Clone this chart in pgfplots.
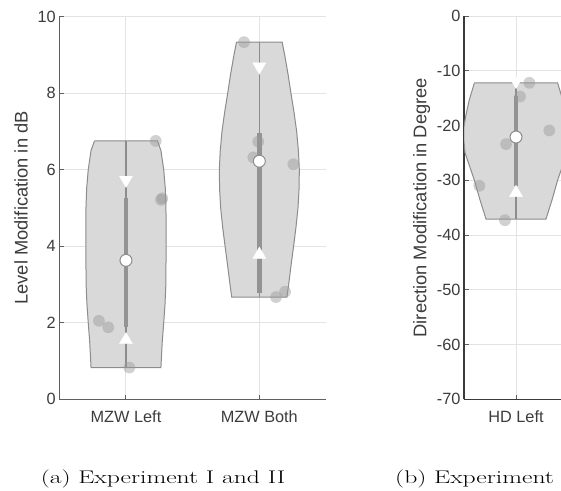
\documentclass[border=0pt]{standalone}
\usepackage{fontspec}
\usepackage{graphicx}
\usepackage{pgfplots}
\pgfplotsset{compat=1.18}
\newfontfamily\arial{Liberation Sans}
\definecolor{violin}{HTML}{D9D9D9}
\definecolor{vedge}{HTML}{8C8C8C}
\definecolor{barg}{HTML}{939393}
\definecolor{ptg}{HTML}{999999}
\definecolor{gridg}{HTML}{E3E3E3}
\definecolor{axg}{HTML}{5F5F5F}
\definecolor{axgb}{HTML}{3A3A3A}
\definecolor{txt}{HTML}{3C3C3C}
\pgfplotsset{
  vstyle/.style={
    scale only axis, enlargelimits=false, clip=true,
    axis x line*=bottom, axis y line*=left,
    axis line style={-, draw=axg, line width=1pt},
    tick align=inside, major tick length=4.5pt,
    tick style={draw=axg, line width=1pt},
    grid=major, grid style={draw=gridg, line width=1pt},
    tick label style={font=\arial\fontsize{16.3}{19}\selectfont, text=txt},
    label style={font=\arial\fontsize{18.3}{21}\selectfont, text=txt},
    xticklabel style={yshift=-8pt},
  },
  violinp/.style={fill=violin, draw=vedge, line width=1pt},
  whisk/.style={draw=vedge, line width=1.2pt},
  iqr/.style={draw=barg, line width=4.5pt},
  pts/.style={only marks, mark=*, mark size=5.9pt, mark options={draw=ptg, draw opacity=0, fill=ptg, fill opacity=0.45}},
  med/.style={only marks, mark=*, mark size=6pt, mark options={fill=white, draw=vedge, line width=1pt}},
  tdown/.style={only marks, mark=triangle*, mark size=7.5pt, mark options={fill=white, draw=white, rotate=180}},
  tup/.style={only marks, mark=triangle*, mark size=7.5pt, mark options={fill=white, draw=white}},
}
\begin{document}
\begin{tikzpicture}
\path[use as bounding box] (0,0) rectangle (561pt,490pt);
\clip (0,0) rectangle (561pt,490pt);
\begin{axis}[vstyle,
  at={(59.3pt,90.7pt)}, anchor=south west,
  width=266.7pt, height=382.8pt,
  xmin=0.5, xmax=2.5, ymin=0, ymax=10,
  xtick={1,2}, xticklabels={MZW Left, MZW Both},
  ytick={0,2,4,6,8,10},
  yticklabels={0,2,4,6,8,10},
  ylabel={Level Modification in dB},
  ylabel style={at={(axis description cs:-0.1436,0.5)}, anchor=center},
]
\addplot[violinp] coordinates {
(0.764,6.75) (0.738,6.5) (0.717,6.0) (0.705,5.5) (0.700,5.0) (0.699,4.0) (0.701,3.0) (0.707,2.5) (0.717,2.0) (0.728,1.5) (0.738,0.83)
(1.262,0.83) (1.272,1.5) (1.283,2.0) (1.293,2.5) (1.299,3.0) (1.301,4.0) (1.300,5.0) (1.295,5.5) (1.283,6.0) (1.262,6.5) (1.236,6.75) (0.764,6.75)};
\addplot[violinp] coordinates {
(1.829,9.33) (1.810,9.0) (1.785,8.5) (1.763,8.0) (1.740,7.5) (1.720,7.0) (1.707,6.5) (1.700,6.0) (1.702,5.5) (1.710,5.0) (1.725,4.5) (1.743,4.0) (1.762,3.5) (1.780,3.0) (1.793,2.67)
(2.207,2.67) (2.220,3.0) (2.238,3.5) (2.257,4.0) (2.275,4.5) (2.290,5.0) (2.298,5.5) (2.300,6.0) (2.293,6.5) (2.280,7.0) (2.260,7.5) (2.237,8.0) (2.215,8.5) (2.190,9.0) (2.171,9.33) (1.829,9.33)};
\addplot[whisk] coordinates {(1,0.83) (1,6.75)};
\addplot[whisk] coordinates {(2,2.67) (2,9.33)};
\addplot[iqr] coordinates {(1,1.90) (1,5.25)};
\addplot[iqr] coordinates {(2,2.77) (2,6.95)};
\addplot[pts] coordinates {(0.797,2.05) (0.867,1.88) (1.025,0.83) (1.223,6.75) (1.2625,5.21) (1.272,5.25)};
\addplot[pts] coordinates {(1.885,9.33) (1.992,6.73) (1.955,6.32) (2.255,6.14) (2.125,2.67) (2.193,2.81)};
\addplot[med] coordinates {(1,3.63) (2,6.22)};
\addplot[tdown] coordinates {(1,5.73) (2,8.69)};
\addplot[tup] coordinates {(1,1.55) (2,3.78)};
\end{axis}
\begin{axis}[vstyle,
  at={(464pt,90.7pt)}, anchor=south west,
  width=104pt, height=383.3pt,
  xmin=0.5, xmax=1.5, ymin=-70, ymax=0,
  axis line style={-, draw=axgb, line width=1.3pt},
  tick style={draw=axg, line width=1pt},
  xtick={1}, xticklabels={HD Left},
  ytick={-70,-60,-50,-40,-30,-20,-10,0},
  yticklabels={-70,-60,-50,-40,-30,-20,-10,0},
  ylabel={Direction Modification in Degree},
  ylabel style={at={(axis description cs:-0.407,0.5)}, anchor=center},
]
\addplot[violinp] coordinates {
(0.600,-12.2) (0.551,-15.3) (0.516,-18.3) (0.500,-20.2) (0.498,-22.5) (0.510,-25.0) (0.555,-27.5) (0.600,-30.0) (0.654,-33.6) (0.712,-37.1)
(1.288,-37.1) (1.346,-33.6) (1.400,-30.0) (1.445,-27.5) (1.490,-25.0) (1.502,-22.5) (1.500,-20.2) (1.484,-18.3) (1.449,-15.3) (1.400,-12.2) (0.600,-12.2)};
\addplot[whisk] coordinates {(1,-37.1) (1,-12.2)};
\addplot[iqr] coordinates {(1,-31.0) (1,-14.6)};
\addplot[pts] coordinates {(1.128,-12.2) (1.038,-14.7) (0.904,-23.4) (1.32,-20.9) (0.647,-31.0) (0.894,-37.3)};
\addplot[med] coordinates {(1,-22.1)};
\addplot[tdown] coordinates {(1,-11.9)};
\addplot[tup] coordinates {(1,-32.3)};
\end{axis}
\node[anchor=base, font=\fontsize{18.3}{22}\selectfont] at (163pt,6.6pt) {\scalebox{1.40}[1]{(a) Experiment I and II}};
\node[anchor=base west, inner sep=0pt, font=\fontsize{18.3}{22}\selectfont] at (395pt,6.6pt) {\scalebox{1.40}[1]{(b) Experiment}};
\end{tikzpicture}
\end{document}
